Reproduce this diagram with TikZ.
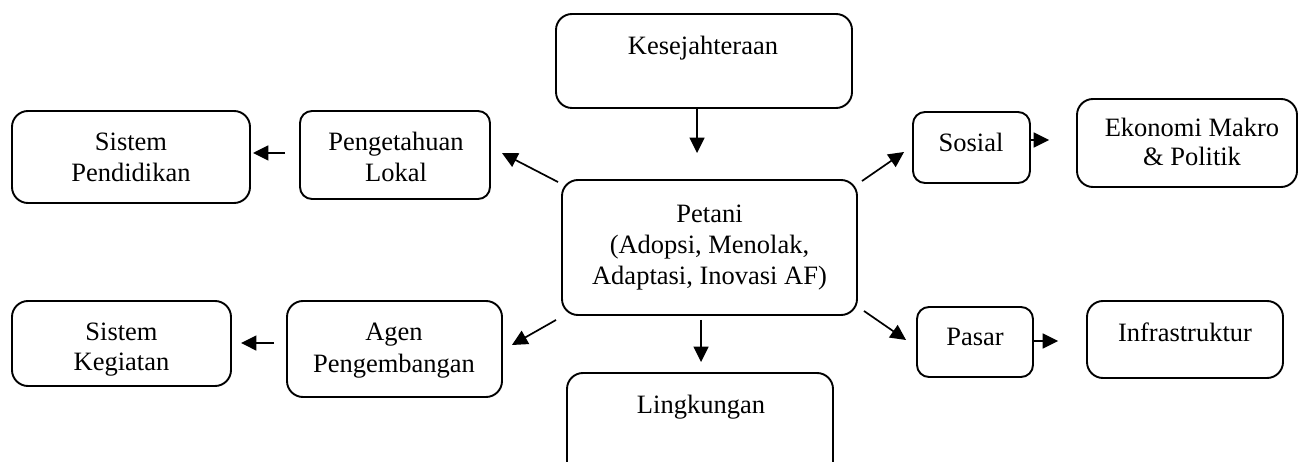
\documentclass[tikz,border=0pt]{standalone}
\usepackage{fontspec}
\setmainfont{Liberation Serif}
\usetikzlibrary{arrows.meta}
\begin{document}
\begin{tikzpicture}[x=1pt,y=-1pt,
  box/.style={draw=black,line width=1.9pt,rounded corners=16pt,inner sep=0pt,anchor=center},
  sbox/.style={box,rounded corners=12pt},
  txt/.style={inner sep=0pt,align=center,anchor=base,font=\fontsize{26.5}{31}\selectfont},
  arr/.style={line width=1.7pt,-{Triangle[length=15.5pt,width=15pt]}}]
\useasboundingbox (0,0) rectangle (1298,462);
\clip (0,0) rectangle (1298,462);
% boxes
\node[box,minimum width=296pt,minimum height=94pt] (kes) at (704,61) {};
\node[box,minimum width=238pt,minimum height=92pt] (spend) at (131,157) {};
\node[sbox,minimum width=190pt,minimum height=88pt] (peng) at (395,155) {};
\node[box,minimum width=295pt,minimum height=135pt] (petani) at (709.5,247.5) {};
\node[sbox,minimum width=117pt,minimum height=71pt] (sosial) at (971.5,147.5) {};
\node[box,minimum width=220pt,minimum height=88pt] (ekon) at (1187,143) {};
\node[sbox,minimum width=116pt,minimum height=70pt] (pasar) at (975,342) {};
\node[box,minimum width=196pt,minimum height=77pt] (infra) at (1185,339.5) {};
\node[box,minimum width=219pt,minimum height=85pt] (skeg) at (121.5,343.5) {};
\node[box,minimum width=215pt,minimum height=96pt] (agen) at (394.5,349) {};
\node[box,minimum width=266pt,minimum height=110pt] (ling) at (700,428) {};
% texts
\node[txt] (tkes) at (703,55) {Kesejahteraan};
\node[txt] (tspend1) at (131,151) {Sistem};
\node[txt] (tspend2) at (131,182) {Pendidikan};
\node[txt] (tpeng1) at (396,151) {Pengetahuan};
\node[txt] (tpeng2) at (396,182) {Lokal};
\node[txt] (tpet1) at (709.5,223) {Petani};
\node[txt] (tpet2) at (709.5,254) {(Adopsi, Menolak,};
\node[txt] (tpet3) at (709.5,284) {Adaptasi, Inovasi AF)};
\node[txt] (tsos) at (971,152) {Sosial};
\node[txt] (tekon1) at (1192,137) {Ekonomi Makro};
\node[txt] (tekon2) at (1192,166) {\& Politik};
\node[txt] (tpasar) at (975,345) {Pasar};
\node[txt] (tinfra) at (1185,341) {Infrastruktur};
\node[txt] (tskeg1) at (121.5,340) {Sistem};
\node[txt] (tskeg2) at (121.5,370) {Kegiatan};
\node[txt] (tagen1) at (394,340) {Agen};
\node[txt] (tagen2) at (394,372) {Pengembangan};
\node[txt] (tling) at (701,413) {Lingkungan};
% connectors
\draw[arr] ([shift={(-7,0)}]kes.south) -- ([shift={(-12.5,-26)}]petani.north);
\draw[arr] ([shift={(-3,3)}]petani.north west) -- ([shift={(11,-2)}]peng.east);
\draw[arr] ([shift={(-5,4)}]petani.south west) -- ([shift={(9,-4)}]agen.east);
\draw[arr] ([shift={(4,2)}]petani.north east) -- ([shift={(-8,4.5)}]sosial.west);
\draw[arr] ([shift={(6,-5)}]petani.south east) -- ([shift={(-10,-2)}]pasar.west);
\draw[arr] ([shift={(-8.5,4)}]petani.south) -- ([shift={(1,-10)}]ling.north);
\draw[arr] ([shift={(-14,-2)}]peng.west) -- ([shift={(2,-4)}]spend.east);
\draw[arr] ([shift={(-12,-6)}]agen.west) -- ([shift={(9,-0.5)}]skeg.east);
\draw[arr] ([shift={(0,-7.5)}]sosial.east) -- ([shift={(-27,-3)}]ekon.west);
\draw[arr] ([shift={(0,-1)}]pasar.east) -- ([shift={(-28,1.5)}]infra.west);
\end{tikzpicture}
\end{document}
